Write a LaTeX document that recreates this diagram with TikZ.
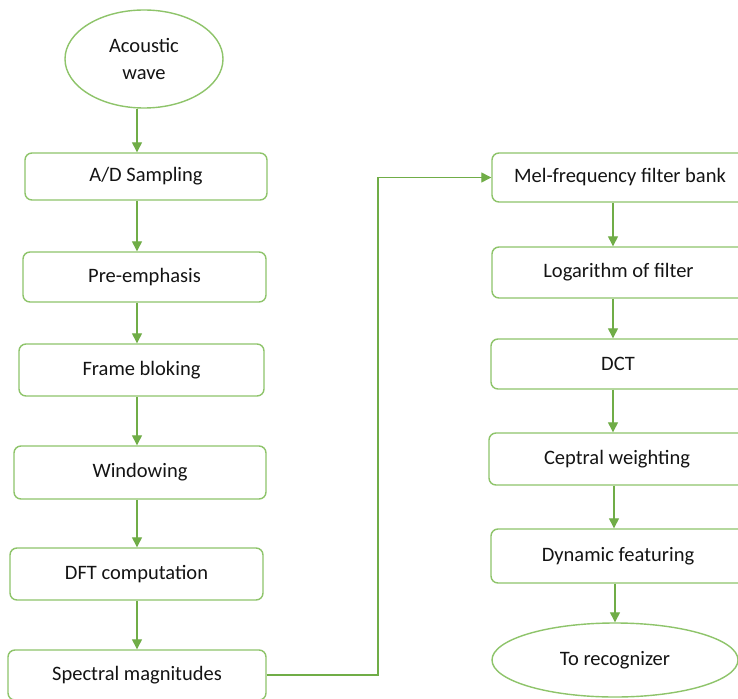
\documentclass[tikz,border=0pt]{standalone}
\usepackage{fontspec}
\setmainfont{Carlito}
\usetikzlibrary{shapes.geometric,arrows.meta}
\definecolor{gline}{HTML}{70AD47}
\definecolor{gbox}{HTML}{8EC46A}
\definecolor{txt}{HTML}{141414}
\begin{document}
\begin{tikzpicture}[x=1pt,y=-1pt,
  stepbox/.style={draw=gbox,line width=1.4pt,rounded corners=7pt,fill=white,
    text=txt,font=\fontsize{20.5}{27}\selectfont,inner sep=0pt},
  oval/.style={ellipse,draw=gbox,line width=1.4pt,fill=white,text=txt,
    font=\fontsize{20.5}{27}\selectfont,inner sep=0pt,align=center},
  conn/.style={draw=gline,line width=1.3pt,-{Triangle[length=10pt,width=10pt]}}]
\useasboundingbox (0,0) rectangle (738,698);
\clip (0,0) rectangle (738,698);
\fill[white] (0,0) rectangle (738,698);

% left column
\node[oval,minimum width=158pt,minimum height=98pt] (ac) at (144,59) {Acoustic\\wave};
\node[stepbox,minimum width=242pt,minimum height=47pt] (ad) at (146,176.5) {A/D Sampling};
\node[stepbox,minimum width=243pt,minimum height=50pt] (pre) at (144.5,277) {Pre-emphasis};
\node[stepbox,minimum width=245pt,minimum height=52pt] (fr) at (141.5,370) {Frame bloking};
\node[stepbox,minimum width=252pt,minimum height=53pt] (win) at (140,472.5) {Windowing};
\node[stepbox,minimum width=253pt,minimum height=52pt] (dft) at (136.5,574) {DFT computation};
\node[stepbox,minimum width=258pt,minimum height=50pt] (sp) at (137,675) {Spectral magnitudes};

% right column
\node[stepbox,minimum width=256pt,minimum height=49pt] (mel) at (620,177.5) {Mel-frequency filter bank};
\node[stepbox,minimum width=253pt,minimum height=51pt] (log) at (618.5,272.5) {Logarithm of filter};
\node[stepbox,minimum width=254pt,minimum height=50pt] (dct) at (618,364) {DCT};
\node[stepbox,minimum width=256pt,minimum height=52pt] (cep) at (617,459) {Ceptral weighting};
\node[stepbox,minimum width=254pt,minimum height=54pt] (dyn) at (618,556) {Dynamic featuring};
\node[oval,minimum width=246pt,minimum height=74pt] (rec) at (615,660) {To recognizer};

% column guide coordinates
\coordinate (colL) at (137,0);
\coordinate (colR) at (613,0);
\coordinate (elb) at (378,400);

\draw[conn] (ac.south -| colL) -- (ad.north -| colL);
\draw[conn] (ad.south -| colL) -- (pre.north -| colL);
\draw[conn] (pre.south -| colL) -- (fr.north -| colL);
\draw[conn] (fr.south -| colL) -- (win.north -| colL);
\draw[conn] (win.south -| colL) -- (dft.north -| colL);
\draw[conn] (dft.south -| colL) -- (sp.north -| colL);

\draw[conn] (sp.east) -| (elb) |- (mel.west);

\draw[conn] (mel.south -| colR) -- (log.north -| colR);
\draw[conn] (log.south -| colR) -- (dct.north -| colR);
\draw[conn] (dct.south -| colR) -- (cep.north -| colR);
\draw[conn] ([xshift=1pt]cep.south -| colR) -- ([xshift=1pt]dyn.north -| colR);
\draw[conn] ([xshift=2pt]dyn.south -| colR) -- ([xshift=2pt]rec.north -| colR);
\end{tikzpicture}
\end{document}
